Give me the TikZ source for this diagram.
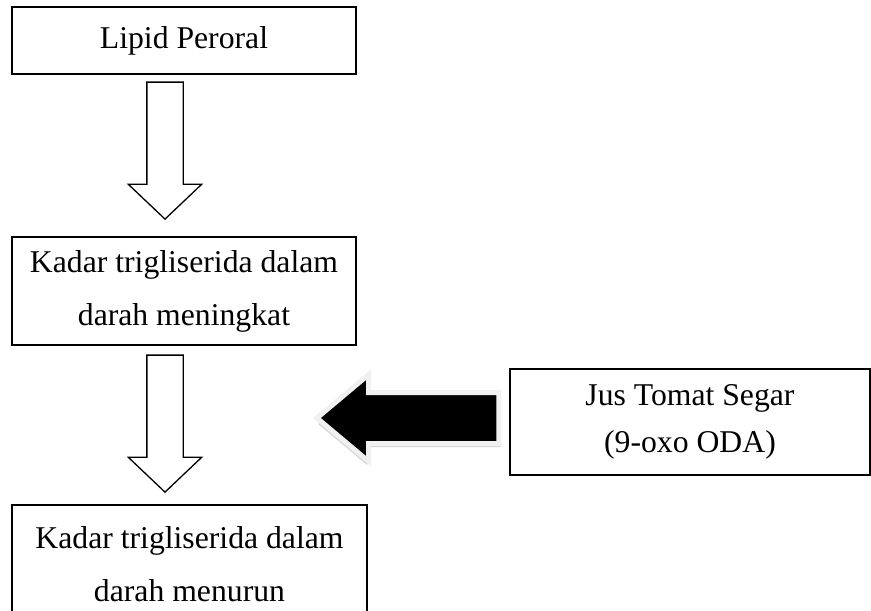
\documentclass[tikz,border=0pt]{standalone}
\usepackage{fontspec}
\setmainfont{Liberation Serif}
\usetikzlibrary{shapes.arrows}

\begin{document}
\begin{tikzpicture}[
  x=1pt, y=-1pt,
  font=\fontsize{31.7}{53}\selectfont,
  box/.style={draw, line width=1.6pt, fill=white, align=center, inner sep=0pt},
  downarr/.style={single arrow, draw, line width=1.3pt, fill=white, rotate=-90,
    inner xsep=0pt, inner ysep=17.5pt, minimum height=137pt,
    single arrow head extend=18.5pt, single arrow tip angle=93},
  blackarr/.style={single arrow, rotate=180, inner xsep=0pt, inner ysep=23pt,
    minimum height=182pt, single arrow head extend=18pt,
    single arrow tip angle=80}
]
\useasboundingbox (0,0) rectangle (871,611);
\clip (0,0) rectangle (871,611);
% boxes
\node[box, minimum width=344pt, minimum height=67pt] (lipid) at (184,40.5) {Lipid Peroral};
\node[box, minimum width=344pt, minimum height=108pt] (naik) at (184,291) {Kadar trigliserida dalam\\ darah meningkat};
\node[box, minimum width=355pt, minimum height=118pt] (turun) at (189.5,564) {Kadar trigliserida dalam\\ darah menurun};
\node[box, minimum width=360pt, minimum height=106pt] (jus) at (690,422) {Jus Tomat Segar\\[-6pt] (9-oxo ODA)};
% block arrows
\node[downarr, anchor=tip] (a1) at (165,220) {};
\node[downarr, anchor=tip] (a2) at (165,493) {};
\node[blackarr, anchor=tip, fill=gray!35] (shadow) at (318,424) {};
\node[blackarr, anchor=tip, fill=black, draw=gray!12, line width=5pt] (a3) at (313,418) {};
\end{tikzpicture}
\end{document}
